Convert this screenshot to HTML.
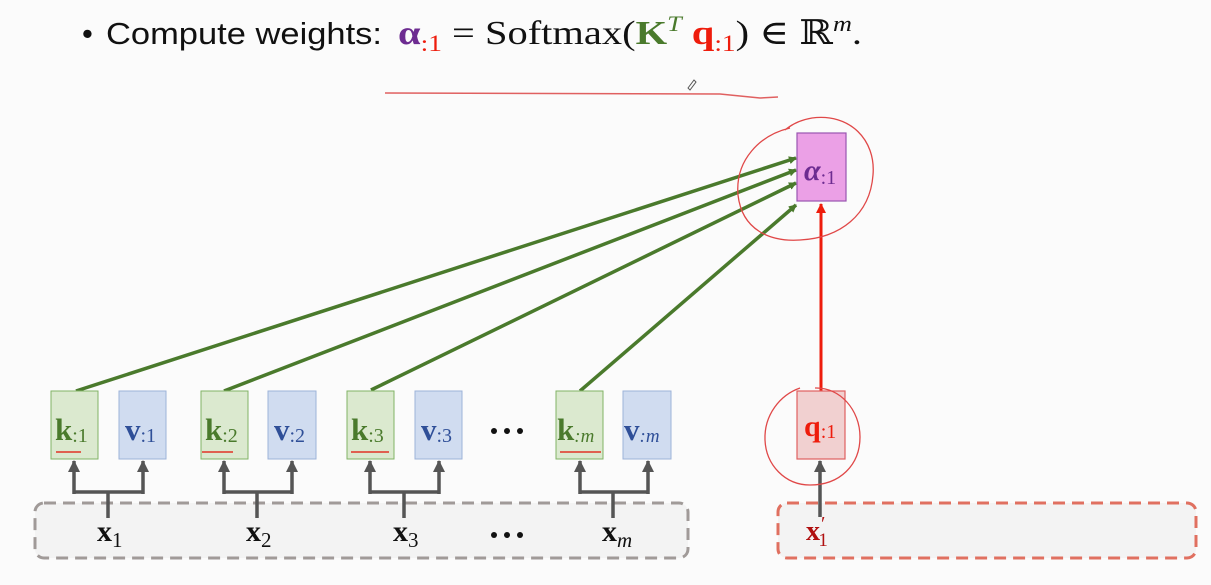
<!DOCTYPE html>
<html><head><meta charset="utf-8"><style>
html,body{margin:0;padding:0;background:#fbfbfb;}
svg{display:block;}
.m{font-family:"Liberation Serif","DejaVu Serif",serif;}
</style></head><body>
<svg width="1211" height="585" viewBox="0 0 1211 585" xmlns="http://www.w3.org/2000/svg">
<defs>
<marker id="ag" markerWidth="8" markerHeight="8" refX="7" refY="4" orient="auto" markerUnits="userSpaceOnUse"><path d="M0,0 L8,4 L0,8z" fill="#4a7a2c"/></marker>
<marker id="ar" markerWidth="10" markerHeight="10" refX="9" refY="5" orient="auto" markerUnits="userSpaceOnUse"><path d="M0,0 L10,5 L0,10z" fill="#ee1c0c"/></marker>
<marker id="ak" markerWidth="12" markerHeight="12" refX="11" refY="6" orient="auto" markerUnits="userSpaceOnUse"><path d="M0,0 L12,6 L0,12z" fill="#555"/></marker>
</defs>
<rect width="1211" height="585" fill="#fbfbfb"/>
<!-- title -->
<text x="82" y="44" font-family="Liberation Sans,sans-serif" font-size="31" fill="#111">•</text>
<text x="106" y="44" font-family="Liberation Sans,sans-serif" font-size="31" fill="#111" textLength="276" lengthAdjust="spacingAndGlyphs">Compute weights:</text>
<text class="m" x="398" y="44" font-size="34" fill="#111" textLength="464" lengthAdjust="spacingAndGlyphs"><tspan fill="#6d2c91" font-weight="bold">α</tspan><tspan fill="#ee1c0c" font-size="23" dy="7">:1</tspan><tspan dy="-7"> = Softmax(</tspan><tspan fill="#4a7a2c" font-weight="bold">K</tspan><tspan fill="#4a7a2c" font-style="italic" font-size="22" dy="-13">T</tspan><tspan fill="#ee1c0c" font-weight="bold" dy="13"> q</tspan><tspan fill="#ee1c0c" font-size="23" dy="7">:1</tspan><tspan dy="-7">) ∈ ℝ</tspan><tspan font-style="italic" font-size="22" dy="-13">m</tspan><tspan dy="13">.</tspan></text>
<path d="M385,93 L720,94 L740,96 L760,98 L778,97" stroke="#e06060" stroke-width="1.5" fill="none"/>
<path d="M688,88 l6,-8 l2,2 l-6,8z" stroke="#555" stroke-width="1" fill="none"/>

<!-- dashed boxes -->
<rect x="35" y="503" width="653" height="55" rx="9" fill="#f3f3f3" stroke="#a09a98" stroke-width="3" stroke-dasharray="12,7"/>
<rect x="778" y="503" width="418" height="55" rx="9" fill="#f3f3f3" stroke="#e07060" stroke-width="3" stroke-dasharray="12,7"/>

<!-- green arrows -->
<g stroke="#4a7a2c" stroke-width="3.5" marker-end="url(#ag)">
<line x1="76" y1="391" x2="796" y2="158"/>
<line x1="224" y1="391" x2="796" y2="170"/>
<line x1="371" y1="390" x2="796" y2="183"/>
<line x1="580" y1="391" x2="796" y2="205"/>
</g>
<line x1="821" y1="391" x2="821" y2="204" stroke="#ee1c0c" stroke-width="3" marker-end="url(#ar)"/>

<!-- alpha box -->
<rect x="797" y="133" width="49" height="68" fill="#eba0e6" stroke="#9a55b0" stroke-width="1.2"/>
<text class="m" x="804" y="180" font-size="30" fill="#6d2c91" font-style="italic" font-weight="bold">α<tspan font-size="20" font-style="normal" font-weight="normal" dy="4">:1</tspan></text>
<!-- q box -->
<rect x="797" y="391" width="48" height="68" fill="#f1d0d0" stroke="#e06060" stroke-width="1.2"/>
<text class="m" x="804" y="436" font-size="30" fill="#ee1c0c" font-weight="bold">q<tspan font-size="20" font-weight="normal" dy="2">:1</tspan></text>
<line x1="820" y1="517" x2="820" y2="461" stroke="#555" stroke-width="3.5" marker-end="url(#ak)"/>
<text class="m" x="806" y="540" font-size="28" fill="#b01010" font-weight="bold">x<tspan font-size="20" font-weight="normal" dx="1" dy="-10">′</tspan><tspan font-size="19" font-weight="normal" dx="-7" dy="16">1</tspan></text>

<!-- red circles -->
<path d="M790,128 C760,135 735,160 738,195 C742,230 770,242 800,240 C840,238 870,215 873,175 C876,140 850,113 812,118 C800,120 792,124 785,130" stroke="#e04848" stroke-width="1.3" fill="none"/>
<path d="M800,388 C780,395 764,415 765,440 C766,465 785,485 810,485 C840,485 860,465 860,437 C860,410 840,387 815,388" stroke="#e04848" stroke-width="1.3" fill="none"/>

<!-- k/v boxes -->
<g stroke-width="1">
<rect x="51" y="391" width="47" height="68" fill="#dbe9cf" stroke="#82b366"/>
<rect x="119" y="391" width="47" height="68" fill="#d0dcf0" stroke="#9db3d8"/>
<rect x="201" y="391" width="47" height="68" fill="#dbe9cf" stroke="#82b366"/>
<rect x="268" y="391" width="48" height="68" fill="#d0dcf0" stroke="#9db3d8"/>
<rect x="347" y="391" width="47" height="68" fill="#dbe9cf" stroke="#82b366"/>
<rect x="415" y="391" width="47" height="68" fill="#d0dcf0" stroke="#9db3d8"/>
<rect x="556" y="391" width="47" height="68" fill="#dbe9cf" stroke="#82b366"/>
<rect x="623" y="391" width="48" height="68" fill="#d0dcf0" stroke="#9db3d8"/>
</g>
<g class="m" font-size="31" font-weight="bold">
<text x="55" y="440" fill="#4a7a2c">k<tspan font-size="20" font-weight="normal" dy="2">:1</tspan></text>
<text x="125" y="440" fill="#2f4f98">v<tspan font-size="20" font-weight="normal" dy="2">:1</tspan></text>
<text x="205" y="440" fill="#4a7a2c">k<tspan font-size="20" font-weight="normal" dy="2">:2</tspan></text>
<text x="274" y="440" fill="#2f4f98">v<tspan font-size="20" font-weight="normal" dy="2">:2</tspan></text>
<text x="351" y="440" fill="#4a7a2c">k<tspan font-size="20" font-weight="normal" dy="2">:3</tspan></text>
<text x="421" y="440" fill="#2f4f98">v<tspan font-size="20" font-weight="normal" dy="2">:3</tspan></text>
<text x="557" y="440" fill="#4a7a2c">k<tspan font-size="19" font-weight="normal" font-style="italic" dy="2">:m</tspan></text>
<text x="624" y="440" fill="#2f4f98">v<tspan font-size="19" font-weight="normal" font-style="italic" dy="2">:m</tspan></text>
</g>
<g stroke="#e06050" stroke-width="2">
<line x1="56" y1="452" x2="81" y2="452"/>
<line x1="202" y1="452" x2="233" y2="452"/>
<line x1="351" y1="452" x2="389" y2="452"/>
<line x1="560" y1="452" x2="601" y2="452"/>
</g>
<g fill="#111">
<circle cx="494" cy="431" r="3"/><circle cx="507" cy="431" r="3"/><circle cx="520" cy="431" r="3"/>
<circle cx="494" cy="535" r="3"/><circle cx="507" cy="535" r="3"/><circle cx="520" cy="535" r="3"/>
</g>

<!-- fork arrows -->
<g stroke="#555" stroke-width="3.5" fill="none">
<path d="M74,492 H143 M108,492 V518"/>
<path d="M224,492 H292 M257,492 V518"/>
<path d="M370,492 H439 M404,492 V518"/>
<path d="M580,492 H648 M613,492 V518"/>
</g>
<g stroke="#555" stroke-width="3.5" marker-end="url(#ak)">
<line x1="74" y1="494" x2="74" y2="461"/><line x1="143" y1="494" x2="143" y2="461"/>
<line x1="224" y1="494" x2="224" y2="461"/><line x1="292" y1="494" x2="292" y2="461"/>
<line x1="370" y1="494" x2="370" y2="461"/><line x1="439" y1="494" x2="439" y2="461"/>
<line x1="580" y1="494" x2="580" y2="461"/><line x1="648" y1="494" x2="648" y2="461"/>
</g>
<g class="m" font-size="30" font-weight="bold" fill="#111">
<text x="97" y="541">x<tspan font-size="21" font-weight="normal" dy="6">1</tspan></text>
<text x="246" y="541">x<tspan font-size="21" font-weight="normal" dy="6">2</tspan></text>
<text x="393" y="541">x<tspan font-size="21" font-weight="normal" dy="6">3</tspan></text>
<text x="602" y="541">x<tspan font-size="21" font-weight="normal" font-style="italic" dy="6">m</tspan></text>
</g>
</svg>
</body></html>
